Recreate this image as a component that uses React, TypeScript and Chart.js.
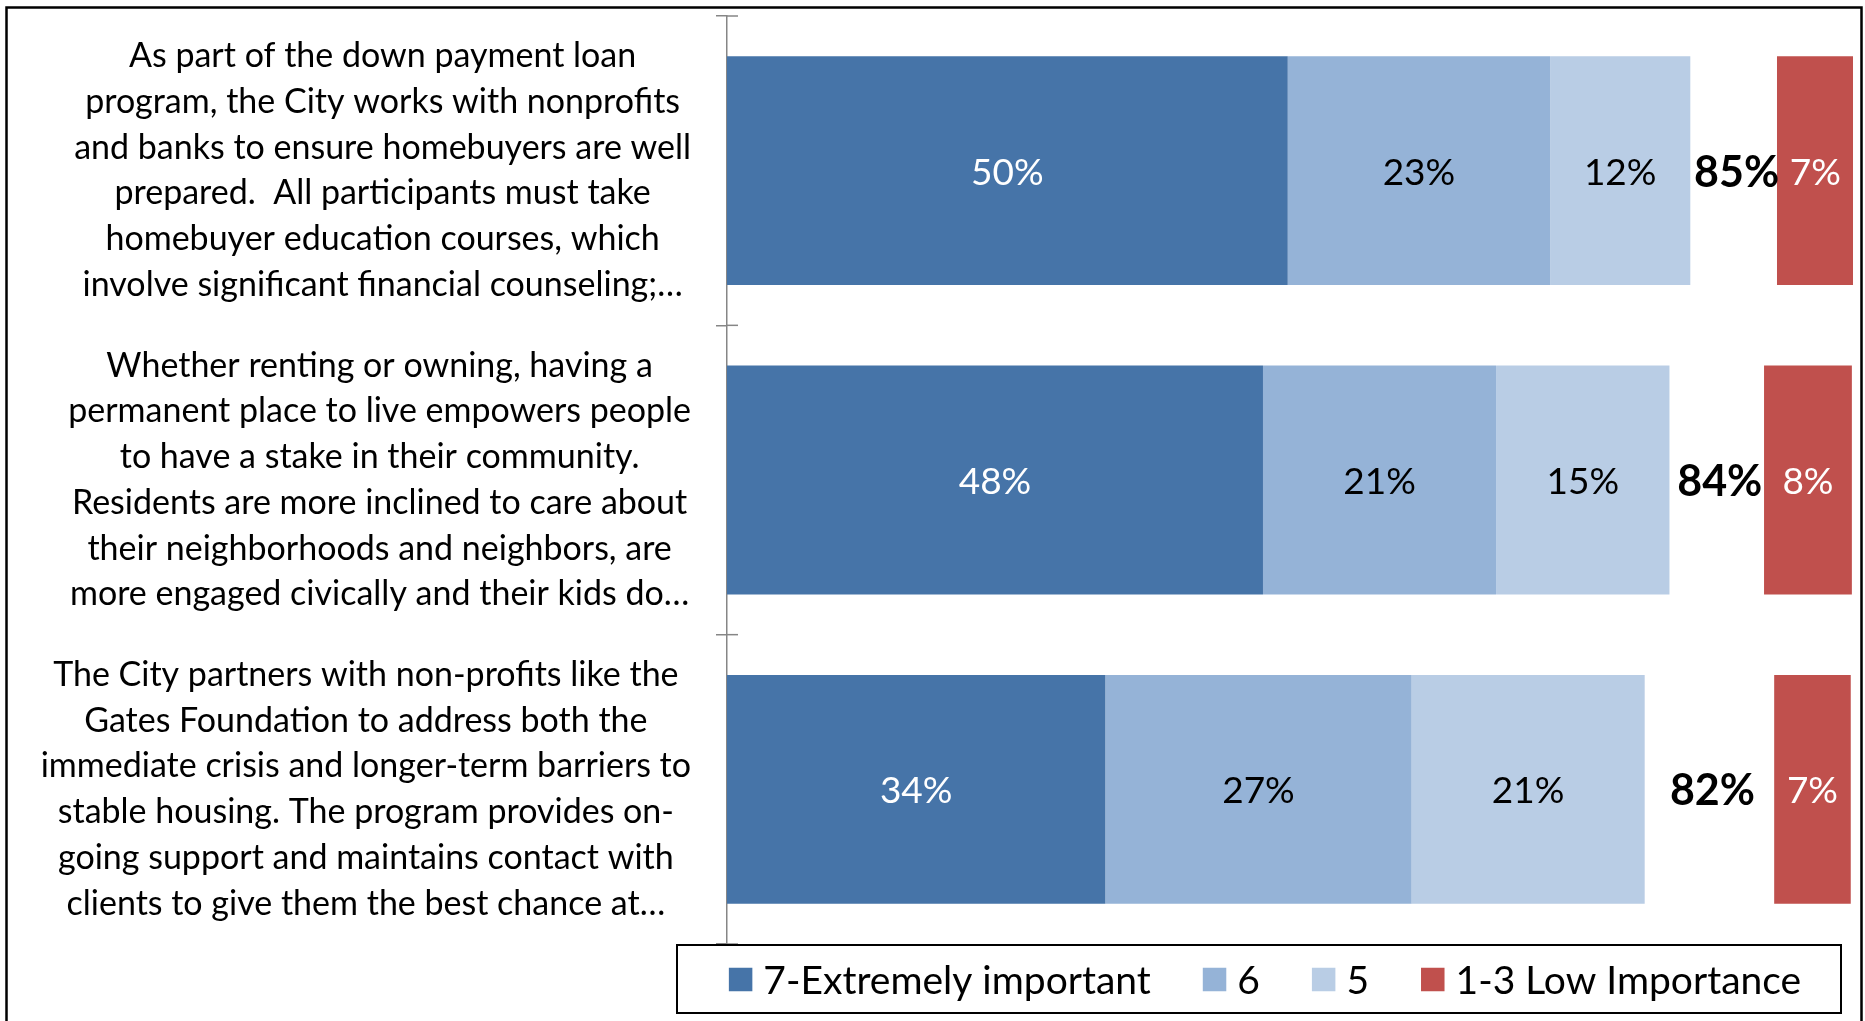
import React, { useEffect, useRef } from 'react';
import { Chart, registerables } from 'chart.js';

Chart.register(...registerables);

// ---------- data ----------
const categories: string[][] = [
  [
    'As part of the down payment loan',
    'program, the City works with nonprofits',
    'and banks to ensure homebuyers are well',
    'prepared.  All participants must take',
    'homebuyer education courses, which',
    'involve significant financial counseling;…',
  ],
  [
    'Whether renting or owning, having a',
    'permanent place to live empowers people',
    'to have a stake in their community.',
    'Residents are more inclined to care about',
    'their neighborhoods and neighbors, are',
    'more engaged civically and their kids do…',
  ],
  [
    'The City partners with non-profits like the',
    'Gates Foundation to address both the',
    'immediate crisis and longer-term barriers to',
    'stable housing. The program provides on-',
    'going support and maintains contact with',
    'clients to give them the best chance at…',
  ],
];

const seriesNames = ['7-Extremely important', '6', '5', 'Top 3 total', '1-3 Low Importance'];
const extremelyImportant = [49.8, 47.6, 33.6];
const rating6 = [23.3, 20.7, 27.2];
const rating5 = [12.45, 15.4, 20.7];
const topThreeTotal = [85, 84, 82];
const totalSpacer = [7.7, 8.4, 11.5];
const lowImportance = [6.8, 7.8, 6.8];
const xMax = 100;

// ---------- styles ----------
const FONT = 'Lato';
const colors = ['#4674A8', '#95B3D7', '#B9CDE5', 'rgba(0,0,0,0)', '#C0504D'];
const labelColors = ['#FFFFFF', '#000000', '#000000', '#000000', '#FFFFFF'];

// centre each category label block on its own widest line (as the original does)
const blockCentering = {
  id: 'blockCentering',
  beforeDraw(chart: any) {
    const scale = chart.scales.y;
    if (!scale || typeof scale.getLabelItems !== 'function') return;
    const items = scale.getLabelItems(chart.chartArea);
    const ctx = chart.ctx;
    ctx.save();
    const widths = items.map((it: any) => {
      ctx.font = it.font.string;
      const lines = Array.isArray(it.label) ? it.label : [it.label];
      return Math.max(...lines.map((l: string) => ctx.measureText(l).width));
    });
    ctx.restore();
    const widest = Math.max(...widths);
    items.forEach((it: any, i: number) => {
      if (it._blockCentered) return;
      it.options.translation[0] += (widest - widths[i]) / 2;
      it._blockCentered = true;
    });
  },
};

const valueLabels = {
  id: 'valueLabels',
  afterDatasetsDraw(chart: any) {
    const ctx = chart.ctx;
    chart.data.datasets.forEach((ds: any, di: number) => {
      const meta = chart.getDatasetMeta(di);
      meta.data.forEach((bar: any, i: number) => {
        const { x, y, base } = bar.getProps(['x', 'y', 'base'], true);
        const cx = (x + base) / 2;
        const isTotal = ds.isTotal;
        const text = isTotal ? `${topThreeTotal[i]}%` : `${Math.round(ds.data[i])}%`;
        ctx.save();
        ctx.font = isTotal ? `bold 43px ${FONT}` : `37px ${FONT}`;
        ctx.fillStyle = ds.labelColor;
        ctx.textAlign = 'center';
        ctx.textBaseline = 'middle';
        ctx.fillText(text, cx + (isTotal ? 3 : 0), y + 2);
        ctx.restore();
      });
    });
  },
};

const crossTicks = {
  id: 'crossTicks',
  afterDraw(chart: any) {
    const ys = chart.scales.y;
    const n = chart.data.labels.length;
    const p0 = ys.getPixelForValue(0);
    const step = n > 1 ? ys.getPixelForValue(1) - p0 : ys.height;
    const left = chart.chartArea.left;
    const ctx = chart.ctx;
    ctx.save();
    ctx.strokeStyle = '#868686';
    ctx.lineWidth = 1.5;
    for (let k = 0; k <= n; k++) {
      const yy = p0 - step / 2 + k * step;
      ctx.beginPath();
      ctx.moveTo(left, yy);
      ctx.lineTo(left + 11, yy);
      ctx.stroke();
    }
    ctx.restore();
  },
};

const frameAndLegend = {
  id: 'frameAndLegend',
  afterDraw(chart: any) {
    const ctx = chart.ctx;
    const W = chart.width;
    const H = chart.height;
    const area = chart.chartArea;
    ctx.save();
    // outer frame (its bottom edge lies outside the picture)
    ctx.strokeStyle = '#000';
    ctx.lineWidth = 2.5;
    ctx.beginPath();
    ctx.moveTo(6.5, H + 10);
    ctx.lineTo(6.5, 7.5);
    ctx.lineTo(W - 3.5, 7.5);
    ctx.lineTo(W - 3.5, H + 10);
    ctx.stroke();

    // legend frame
    const fl = area.left - 50;
    const fr = area.right - 12;
    const ft = area.bottom + 1;
    const fb = H - 8;
    ctx.lineWidth = 2;
    ctx.strokeRect(fl, ft, fr - fl, fb - ft);

    // legend items
    const items = chart.data.datasets
      .map((ds: any, i: number) => ({ text: ds.label, color: ds.backgroundColor, hidden: ds.isTotal, i }))
      .filter((d: any) => !d.hidden);
    const box = 23.5;
    const gapBoxText = 11;
    const gapItems = 52;
    ctx.font = `39px ${FONT}`;
    const widths = items.map((it: any) => ctx.measureText(it.text).width);
    const total =
      widths.reduce((a: number, w: number) => a + box + gapBoxText + w, 0) + gapItems * (items.length - 1);
    const cy = (ft + fb) / 2 + 0.5;
    let x = (fl + fr) / 2 + 6 - total / 2;
    items.forEach((it: any, k: number) => {
      ctx.fillStyle = it.color;
      ctx.fillRect(x, cy - box / 2, box, box);
      ctx.fillStyle = '#000';
      ctx.textAlign = 'left';
      ctx.textBaseline = 'middle';
      ctx.fillText(it.text, x + box + gapBoxText, cy + 2);
      x += box + gapBoxText + widths[k] + gapItems;
    });
    ctx.restore();
  },
};

export default function App() {
  const canvasRef = useRef<HTMLCanvasElement | null>(null);

  useEffect(() => {
    if (!canvasRef.current) return;
    const values = [extremelyImportant, rating6, rating5, totalSpacer, lowImportance];
    const chart = new Chart(canvasRef.current, {
      type: 'bar',
      data: {
        labels: categories,
        datasets: values.map((v, i) => ({
          label: seriesNames[i],
          data: v,
          backgroundColor: colors[i],
          borderWidth: 0,
          barPercentage: 0.74,
          categoryPercentage: 1,
          isTotal: i === 3,
          labelColor: labelColors[i],
        })) as any,
      },
      options: {
        indexAxis: 'y',
        responsive: false,
        animation: false,
        events: [],
        layout: { padding: { left: 0, right: 12, top: 16, bottom: 77 } },
        plugins: {
          legend: { display: false },
          tooltip: { enabled: false },
          title: { display: false },
        },
        scales: {
          x: {
            stacked: true,
            display: false,
            min: 0,
            max: xMax,
          },
          y: {
            stacked: true,
            afterFit: (scale: any) => {
              scale.width = 727;
              scale.paddingTop = 0;
              scale.paddingBottom = 0;
            },
            border: { display: true, color: '#868686', width: 1.5 },
            grid: {
              offset: true,
              drawOnChartArea: false,
              drawTicks: true,
              tickLength: 11,
              color: '#868686',
              lineWidth: 1.5,
            },
            ticks: {
              autoSkip: false,
              crossAlign: 'center',
              padding: 25,
              color: '#000000',
              font: { family: FONT, size: 34, lineHeight: 45.7 / 34 },
            },
          },
        },
      } as any,
      plugins: [blockCentering, valueLabels, crossTicks, frameAndLegend],
    });
    return () => chart.destroy();
  }, []);

  return (
    <div style={{ position: 'fixed', left: 0, top: 0, width: 1865, height: 1021, background: '#fff' }}>
      <canvas ref={canvasRef} width={1865} height={1021} />
    </div>
  );
}
